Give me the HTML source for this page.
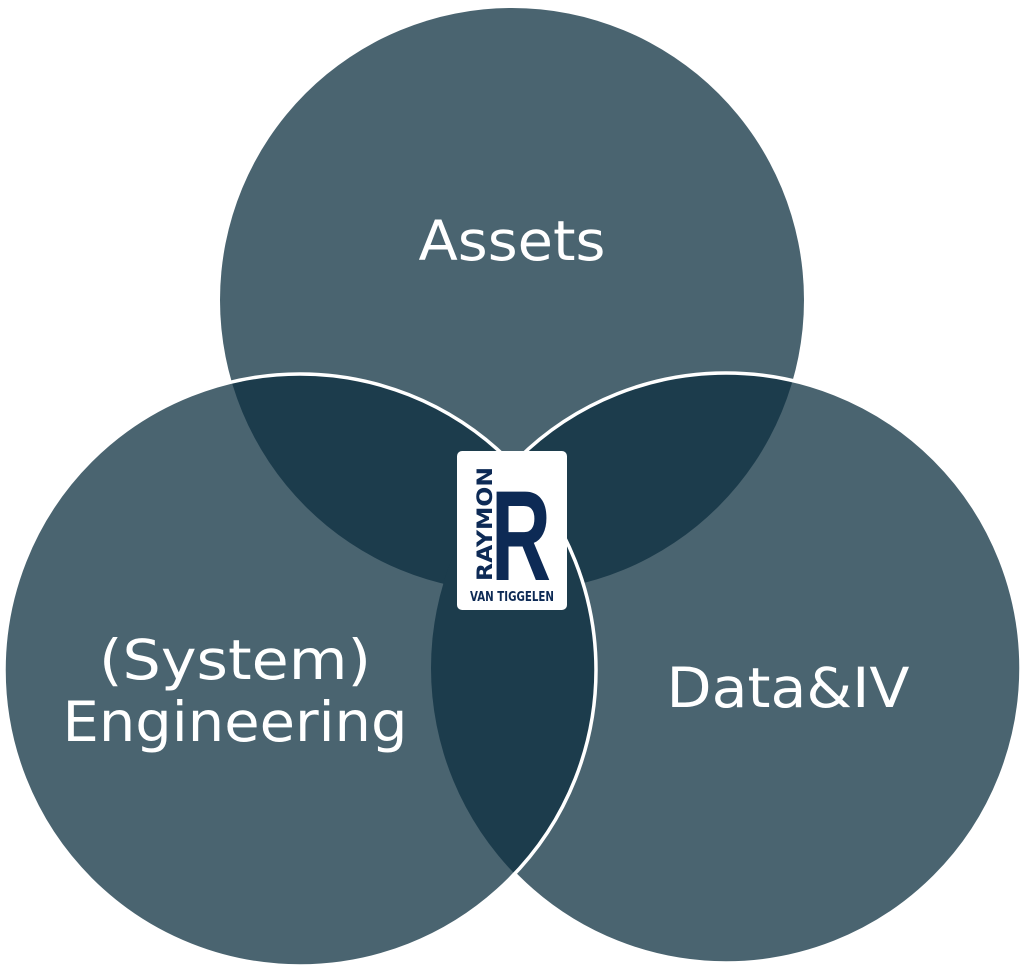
<!DOCTYPE html>
<html><head><style>
html,body{margin:0;padding:0;background:#fff;}
svg{display:block;}
text{font-family:"DejaVu Sans","Liberation Sans",sans-serif;}
</style></head><body>
<svg width="1024" height="969" viewBox="0 0 1024 969" xmlns="http://www.w3.org/2000/svg">
<defs>
<clipPath id="cT"><circle cx="512" cy="300" r="292"/></clipPath>
<clipPath id="cL"><circle cx="300" cy="670" r="296"/></clipPath>
<clipPath id="cR"><circle cx="726" cy="668" r="295"/></clipPath>
<mask id="notL"><rect width="1024" height="969" fill="#fff"/><circle cx="300" cy="670" r="296" fill="#000"/></mask>
</defs>
<circle cx="512" cy="300" r="292" fill="#4a6470"/>
<circle cx="300" cy="670" r="296" fill="#4a6470"/>
<circle cx="726" cy="668" r="295" fill="#4a6470"/>
<g clip-path="url(#cT)">
<circle cx="300" cy="670" r="296" fill="#1c3c4c"/>
<circle cx="726" cy="668" r="295" fill="#1c3c4c"/>
</g>
<g clip-path="url(#cL)"><circle cx="726" cy="668" r="295" fill="#1c3c4c"/></g>
<circle cx="726" cy="668" r="295" fill="none" stroke="#fff" stroke-width="3.5" mask="url(#notL)"/>
<circle cx="300" cy="670" r="296" fill="none" stroke="#fff" stroke-width="3.5"/>
<text x="512" y="260" font-size="55" fill="#fff" text-anchor="middle" textLength="187" lengthAdjust="spacingAndGlyphs">Assets</text>
<text x="235" y="679" font-size="55" fill="#fff" text-anchor="middle" textLength="272" lengthAdjust="spacingAndGlyphs">(System)</text>
<text x="235" y="741" font-size="55" fill="#fff" text-anchor="middle" textLength="345" lengthAdjust="spacingAndGlyphs">Engineering</text>
<text x="788" y="707" font-size="55" fill="#fff" text-anchor="middle" textLength="243" lengthAdjust="spacingAndGlyphs">Data&amp;IV</text>
<rect x="457" y="451" width="110" height="159" rx="5" fill="#fff"/>
<text x="551" y="580" font-size="128" font-weight="bold" fill="#0d2a55" text-anchor="end" style="font-family:'Liberation Sans',sans-serif" textLength="60" lengthAdjust="spacingAndGlyphs">R</text>
<text transform="translate(492,581) rotate(-90)" font-size="21" font-weight="bold" fill="#0d2a55" textLength="114" lengthAdjust="spacingAndGlyphs">RAYMON</text>
<text x="512" y="601" font-size="13" font-weight="bold" fill="#0d2a55" text-anchor="middle" textLength="84" lengthAdjust="spacingAndGlyphs">VAN TIGGELEN</text>
</svg>
</body></html>
